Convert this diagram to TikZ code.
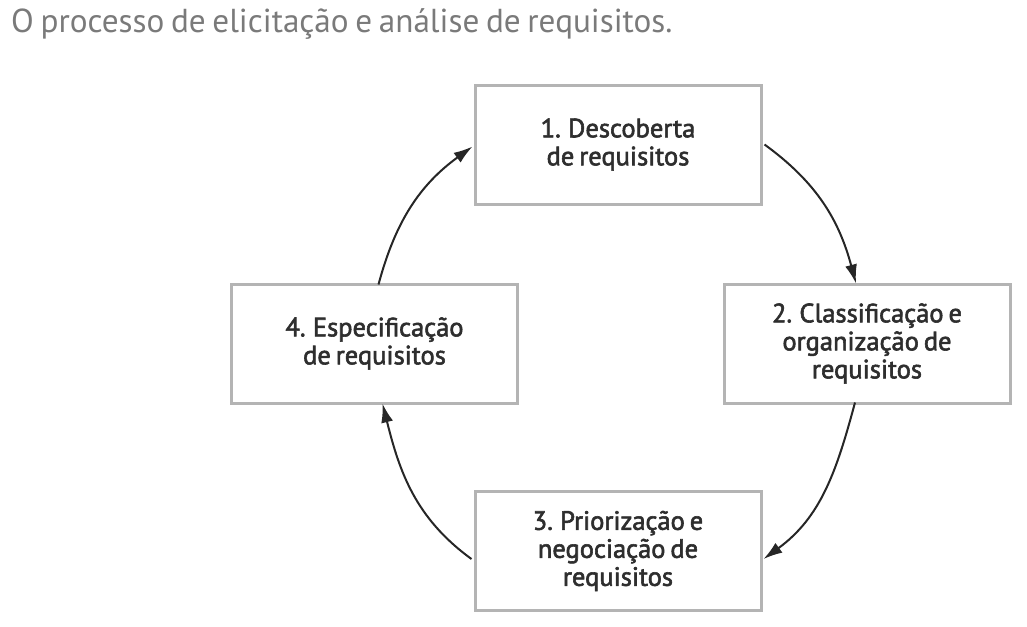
\documentclass[tikz,border=0pt]{standalone}
\usepackage{fontspec}
\setmainfont[WordSpace=0.75]{PT Sans}
\newfontfamily\boxfont[FakeBold=2.2,WordSpace=0.7]{PT Sans}
\usetikzlibrary{arrows.meta}
\definecolor{titlegray}{HTML}{7A7A7A}
\definecolor{boxgray}{HTML}{B4B4B4}
\definecolor{txtdark}{HTML}{2E2E2E}
\tikzset{
  stagebox/.style={draw=boxgray, line width=3pt, minimum width=286pt, minimum height=119pt,
    align=center, text=txtdark, font=\boxfont\fontsize{26.5}{28}\selectfont, inner sep=0pt},
  cyc/.style={draw=black!85, line width=2pt, -{Latex[length=19pt,width=12pt]}}
}
\begin{document}
\begin{tikzpicture}[x=1pt,y=-1pt]
\useasboundingbox (0,0) rectangle (1027,626);
\node[anchor=base west, text=titlegray, font=\fontsize{33.2}{36}\selectfont, inner sep=0pt] (title) at (11,33) {O processo de elicitação e análise de requisitos.};
\node[stagebox] (b1) at (618,144.5) {1. Descoberta\\de requisitos};
\node[stagebox] (b2) at (867,343.5) {2. Classificação e\\organização de\\requisitos};
\node[stagebox] (b3) at (618,551) {3. Priorização e\\negociação de\\requisitos};
\node[stagebox] (b4) at (374.5,343.5) {4. Especificação\\de requisitos};
\draw[cyc] ([xshift=2pt]b1.east) to[out=-36,in=105] ([xshift=-11pt,yshift=-1pt]b2.north);
\draw[cyc] ([xshift=-12pt,yshift=2pt]b2.south) to[out=-105,in=36] ([xshift=1pt,yshift=-8pt]b3.east);
\draw[cyc] ([xshift=-2pt,yshift=-8pt]b3.west) to[out=144,in=-76] ([xshift=8pt,yshift=1pt]b4.south);
\draw[cyc] ([xshift=4pt,yshift=-2pt]b4.north) to[out=75,in=-144] ([xshift=-1pt,yshift=-2pt]b1.west);
\end{tikzpicture}
\end{document}
